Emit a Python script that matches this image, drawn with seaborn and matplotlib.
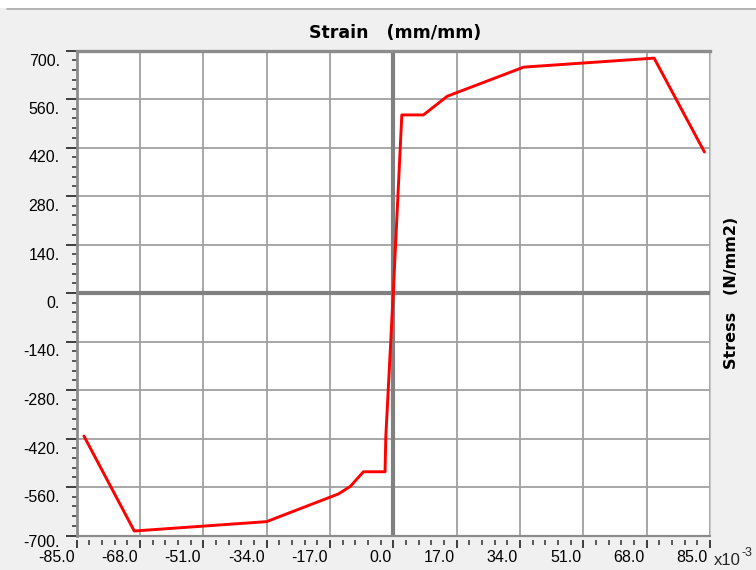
import matplotlib
matplotlib.use("Agg")
import matplotlib.pyplot as plt
import seaborn as sns
import pandas as pd
from matplotlib.ticker import FixedLocator, MultipleLocator
from matplotlib.transforms import ScaledTranslation
from matplotlib.patches import Rectangle
from matplotlib.lines import Line2D

# Stress-strain curve (strain in units of 1e-3 mm/mm, stress in N/mm2)
strain = [-83.0, -69.5, -34.0, -14.7, -11.5, -8.0, -2.2, -2.0, 0.0,
          2.3, 8.1, 14.5, 35.0, 70.0, 83.5]
stress = [-413, -687, -660, -580, -558, -516, -516, -415, 0,
          514, 514, 568, 652, 678, 407]

x_ticks = [-85.0, -68.0, -51.0, -34.0, -17.0, 0.0, 17.0, 34.0, 51.0, 68.0, 85.0]
x_tick_labels = ["-85.0", "-68.0", "-51.0", "-34.0", "-17.0", "0.0",
                 "17.0", "34.0", "51.0", "68.0", "85.0"]
y_ticks = [-700, -560, -420, -280, -140, 0, 140, 280, 420, 560, 700]
y_tick_labels = ["-700.", "-560.", "-420.", "-280.", "-140.", "0.",
                 "140.", "280.", "420.", "560.", "700."]

title_text = "Strain   (mm/mm)"
ylabel_text = "Stress   (N/mm2)"
scale_text = "x10"
scale_exp = "-3"

sns.set_theme(style="white")
plt.rcParams["font.family"] = ["Liberation Sans", "DejaVu Sans"]

W, H = 756, 570
fig = plt.figure(figsize=(W / 100, H / 100), dpi=100, facecolor="#F0F0F0")


def rect(x0, y0, x1, y1):
    return [x0 / W, 1 - y1 / H, (x1 - x0) / W, (y1 - y0) / H]


# window strip at the very top
fig.patches.append(Rectangle((0, 1 - 8 / H), 1, 8 / H, transform=fig.transFigure,
                             facecolor="white", edgecolor="none", zorder=0))
fig.lines.append(Line2D([7 / W, 1], [1 - 8.5 / H, 1 - 8.5 / H], transform=fig.transFigure,
                        color="#A8A8A8", lw=1.2))

ax = fig.add_axes(rect(76.5, 50.5, 710, 535.5))
ax.set_facecolor("white")

df = pd.DataFrame({"strain": strain, "stress": stress})
sns.lineplot(data=df, x="strain", y="stress", sort=False, estimator=None,
             color="#FF0000", lw=2.1, ax=ax, zorder=4)

ax.set_xlim(-85, 85)
ax.set_ylim(-700, 700)

ax.axhline(0, color="#808080", lw=3.0, zorder=2)
ax.axvline(0, color="#808080", lw=3.0, zorder=2)

ax.xaxis.set_major_locator(FixedLocator(x_ticks))
ax.xaxis.set_minor_locator(MultipleLocator(3.4))
ax.yaxis.set_major_locator(FixedLocator(y_ticks))
ax.yaxis.set_minor_locator(MultipleLocator(28))
ax.grid(which="major", color="#A0A0A0", lw=1.3)
ax.grid(which="minor", visible=False)
ax.set_axisbelow(True)

ax.set_xticklabels(x_tick_labels)
ax.set_yticklabels(y_tick_labels)
ax.set_xlabel("")
ax.set_ylabel("")

# frame
for side in ("top", "left"):
    ax.spines[side].set_color("#8C8C8C")
ax.spines["top"].set_linewidth(2.4)
ax.spines["left"].set_linewidth(2.0)
ax.spines["right"].set_color("#C8C8C8")
ax.spines["right"].set_linewidth(0.8)
ax.spines["bottom"].set_position(("outward", 3))
ax.spines["bottom"].set_visible(False)
ax.plot([0, 1], [0, 0], transform=ax.transAxes, color="#8C8C8C", lw=1.6,
        clip_on=False, zorder=5)

ax.tick_params(axis="both", which="both", direction="out", color="#303030",
               bottom=True, left=True, top=False, right=False,
               labelcolor="black", labelsize=11.5)
ax.tick_params(axis="y", which="major", length=8, width=1.3, pad=4.0)
ax.tick_params(axis="y", which="minor", length=3.6, width=1.1)
ax.tick_params(axis="x", which="major", length=5.8, width=1.3, pad=1.6)
ax.tick_params(axis="x", which="minor", length=3.6, width=1.1)

for lab in ax.get_xticklabels():
    lab.set_horizontalalignment("right")
    lab.set_transform(lab.get_transform() + ScaledTranslation(-2 / 100, 0, fig.dpi_scale_trans))

for lab, val in zip(ax.get_yticklabels(), y_ticks):
    lab.set_verticalalignment("center")
    dy = 7 if val == -700 else 10.5
    lab.set_transform(lab.get_transform() + ScaledTranslation(0, -dy / 100, fig.dpi_scale_trans))

fig.text(395 / W, 1 - 33 / H, title_text, ha="center", va="center",
         fontsize=12.5, fontweight="bold", family="DejaVu Sans", color="black")
fig.text(731 / W, 1 - 293 / H, ylabel_text, ha="center", va="center", rotation=90,
         fontsize=11.5, fontweight="bold", family="DejaVu Sans", color="black")
fig.text(714 / W, 1 - 565 / H, scale_text, ha="left", va="baseline", fontsize=12)
fig.text(741 / W, 1 - 556 / H, scale_exp, ha="left", va="baseline", fontsize=9)

fig.savefig("out.png", dpi=100, facecolor=fig.get_facecolor())
